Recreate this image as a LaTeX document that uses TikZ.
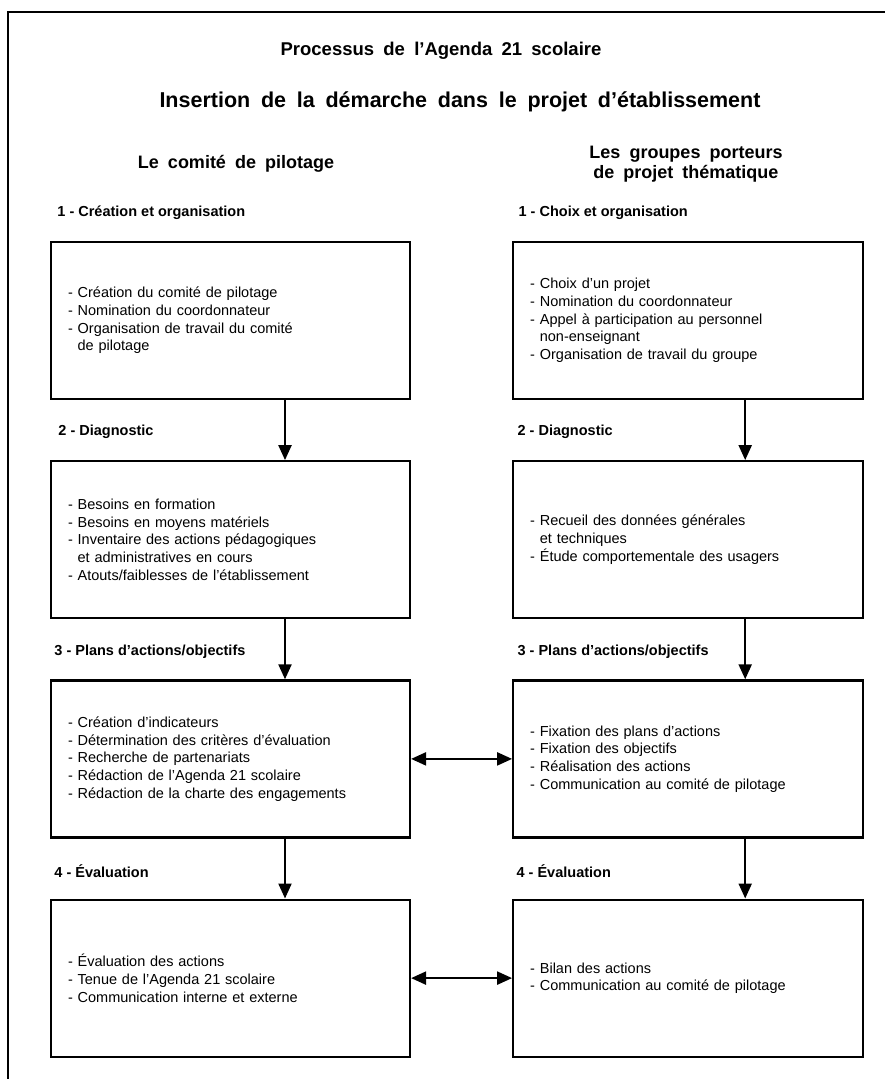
\documentclass[tikz,border=0pt]{standalone}
\usepackage{fontspec}
\setmainfont{Liberation Sans}
\usetikzlibrary{arrows.meta, positioning}

\newcommand{\cont}{\phantom{- }}
\newcommand{\wsp}{\spaceskip=0.5em\relax}

\begin{document}
\begin{tikzpicture}[x=1pt, y=-1pt,
    node distance=60pt and 101pt,
    >={Triangle[length=15pt,width=13pt]},
    box/.style={draw, line width=2.2pt, minimum height=157pt,
        inner xsep=17pt, align=left,
        font=\fontsize{14.5}{17.7}\selectfont},
    lbox/.style={box, text width=325pt},
    rbox/.style={box, text width=316pt},
    stage/.style={anchor=west, font=\fontsize{14.5}{17}\selectfont\bfseries},
    heading/.style={align=center, font=\fontsize{18}{20}\selectfont\bfseries},
    link/.style={line width=2.2pt}]

    \useasboundingbox (0,0) rectangle (885,1079);
    \draw[line width=1.6pt] (885,12) -| (8,1079);

    % titles
    \node[heading, font=\fontsize{18.5}{22}\selectfont\bfseries]
        (title) at (441,51) {\wsp Processus de l’Agenda 21 scolaire};
    \node[heading, font=\fontsize{21.5}{24}\selectfont\bfseries]
        (subtitle) at (460,102) {\wsp Insertion de la démarche dans le projet d’établissement};
    \node[heading] (colL) at (236,164) {\wsp Le comité de pilotage};
    \node[heading] (colR) at (686,164) {\wsp Les groupes porteurs\\\wsp de projet thématique};

    % le comite de pilotage
    \node[lbox] (l1) at (230.5,320.5)
        {- Création du comité de pilotage\\
         - Nomination du coordonnateur\\
         - Organisation de travail du comité\\
         \cont de pilotage};
    \node[lbox, below=of l1] (l2)
        {- Besoins en formation\\
         - Besoins en moyens matériels\\
         - Inventaire des actions pédagogiques\\
         \cont et administratives en cours\\
         - Atouts/faiblesses de l'établissement};
    \node[lbox, below=of l2] (l3)
        {- Création d'indicateurs\\
         - Détermination des critères d'évaluation\\
         - Recherche de partenariats\\
         - Rédaction de l'Agenda 21 scolaire\\
         - Rédaction de la charte des engagements};
    \node[lbox, below=of l3] (l4)
        {- Évaluation des actions\\
         - Tenue de l'Agenda 21 scolaire\\
         - Communication interne et externe};

    % les groupes porteurs
    \node[rbox, right=of l1] (r1)
        {- Choix d'un projet\\
         - Nomination du coordonnateur\\
         - Appel à participation au personnel\\
         \cont non-enseignant\\
         - Organisation de travail du groupe};
    \node[rbox, right=of l2] (r2)
        {- Recueil des données générales\\
         \cont et techniques\\
         - Étude comportementale des usagers};
    \node[rbox, right=of l3] (r3)
        {- Fixation des plans d'actions\\
         - Fixation des objectifs\\
         - Réalisation des actions\\
         - Communication au comité de pilotage};
    \node[rbox, right=of l4] (r4)
        {- Bilan des actions\\
         - Communication au comité de pilotage};

    % stages
    \node[stage] (sl1) at ([shift={(4pt,28pt)}]l1.north west) {1 - Création et organisation};
    \node[stage] (sl2) at ([shift={(5pt,28pt)}]l2.north west) {2 - Diagnostic};
    \node[stage] (sl3) at ([shift={(1pt,28pt)}]l3.north west) {3 - Plans d'actions/objectifs};
    \node[stage] (sl4) at ([shift={(1pt,27pt)}]l4.north west) {4 - Évaluation};
    \node[stage] (sr1) at ([shift={(3pt,28pt)}]r1.north west) {1 - Choix et organisation};
    \node[stage] (sr2) at ([shift={(2pt,28pt)}]r2.north west) {2 - Diagnostic};
    \node[stage] (sr3) at ([shift={(2pt,28pt)}]r3.north west) {3 - Plans d'actions/objectifs};
    \node[stage] (sr4) at ([shift={(1pt,27pt)}]r4.north west) {4 - Évaluation};

    % arrows
    \draw[link, ->] ([xshift=54.5pt]l1.south) -- ([xshift=54.5pt]l2.north);
    \draw[link, ->] ([xshift=54.5pt]l2.south) -- ([xshift=54.5pt]l3.north);
    \draw[link, ->] ([xshift=54.5pt]l3.south) -- ([xshift=54.5pt]l4.north);
    \draw[link, ->] ([xshift=57pt]r1.south) -- ([xshift=57pt]r2.north);
    \draw[link, ->] ([xshift=57pt]r2.south) -- ([xshift=57pt]r3.north);
    \draw[link, ->] ([xshift=57pt]r3.south) -- ([xshift=57pt]r4.north);
    \draw[link, <->] (l3) -- (r3);
    \draw[link, <->] (l4) -- (r4);
\end{tikzpicture}
\end{document}
